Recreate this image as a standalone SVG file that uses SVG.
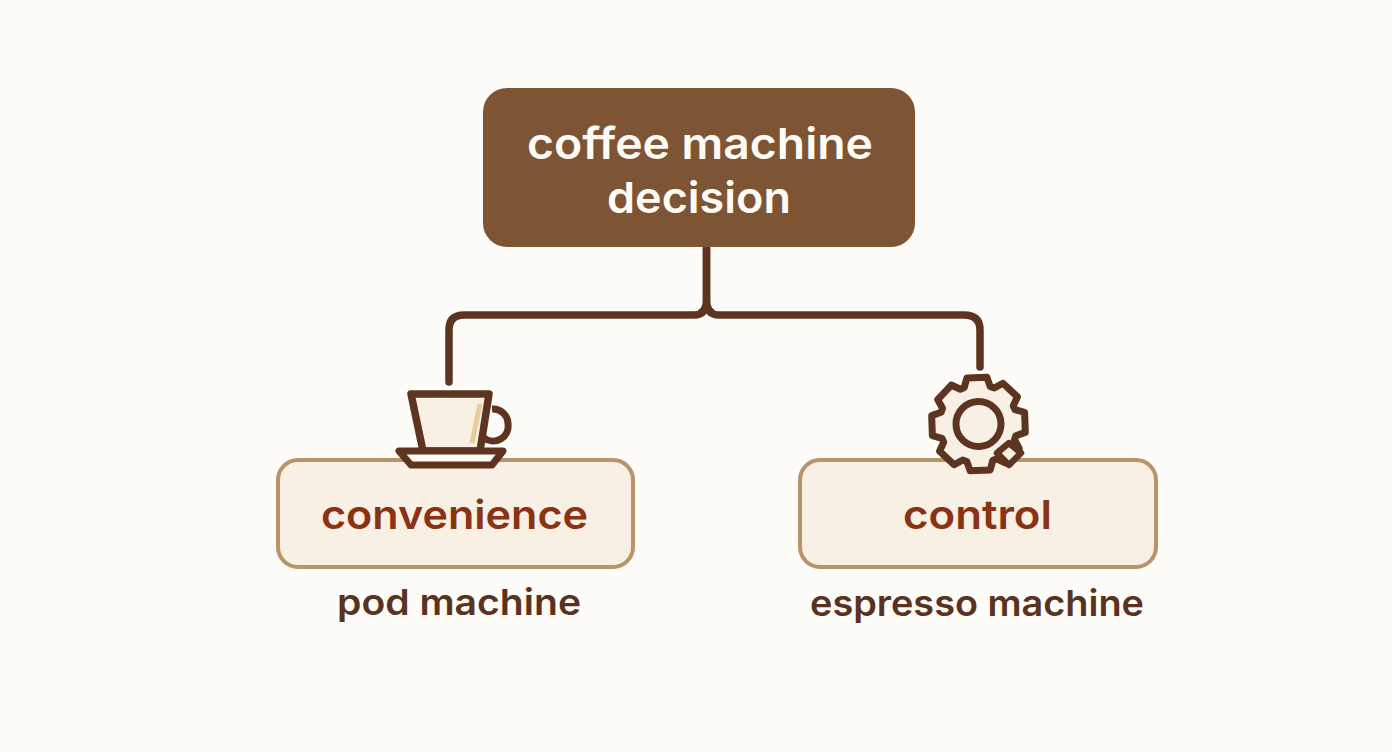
<svg xmlns="http://www.w3.org/2000/svg" width="1392" height="752" viewBox="0 0 1392 752">
<style>
text{font-family:"Inter","Liberation Sans",sans-serif;text-anchor:middle;font-weight:600;}
.root{fill:#fdfbf6;font-size:43px}
.opt{fill:#f8f0e4;stroke:#b99468;stroke-width:4}
.lab{fill:#8a3312;font-size:40px}
.sub{fill:#5a3220;font-size:36px;font-weight:600}
.ln{fill:none;stroke:#5c3420;stroke-width:7.500;stroke-linecap:round;stroke-linejoin:round}
.ink{stroke:#5c3420;stroke-linejoin:round}
</style>
<rect width="1392" height="752" fill="#fdfcf8"/>
<g id="connectors">
<path class="ln" d="M706.500 248V300Q706.500 315 694 315H464Q449 315 449 330V382"/>
<path class="ln" d="M706.500 248V300Q706.500 315 719 315H964Q980 315 980 330V367"/>
</g>
<g id="node-root">
<rect x="483" y="88" width="432" height="159" rx="24" fill="#7d5534"/>
<text class="root" x="700" y="159" textLength="346" lengthAdjust="spacingAndGlyphs">coffee machine</text>
<text class="root" x="699" y="213" textLength="184" lengthAdjust="spacingAndGlyphs">decision</text>
</g>
<g id="node-convenience">
<rect class="opt" x="278" y="460" width="355" height="107" rx="20"/>
<text class="lab" x="454.500" y="529" textLength="267" lengthAdjust="spacingAndGlyphs">convenience</text>
<text class="sub" x="459" y="615" textLength="244" lengthAdjust="spacingAndGlyphs">pod machine</text>
<path class="ink" d="M411 394H489L480 451H423Z" fill="#f8f0e4" stroke-width="7.500"/>
<path d="M480 404L472 443" fill="none" stroke="#e8cf97" stroke-width="5"/>
<path d="M492 409A15 15 0 0 1 508 424A15 15 0 0 1 484 438" fill="none" stroke="#5c3420" stroke-width="7"/>
<path class="ink" d="M399 451H503L492 465H411Z" fill="#fdfaf3" stroke-width="7"/>
</g>
<g id="node-control">
<rect class="opt" x="800" y="460" width="356" height="107" rx="20"/>
<text class="lab" x="977.500" y="529" textLength="149" lengthAdjust="spacingAndGlyphs">control</text>
<text class="sub" x="977" y="616" textLength="334" lengthAdjust="spacingAndGlyphs">espresso machine</text>
<g transform="translate(978.500 424) rotate(-2)">
<polygon class="ink" points="-13,-37 -10,-46.500 10,-46.500 13,-37 17,-35.400 25.800,-39.900 39.900,-25.800 35.400,-17 37,-13 46.500,-10 46.500,10 37,13 35.400,17 39.900,25.800 25.800,39.900 17,35.400 13,37 10,46.500 -10,46.500 -13,37 -17,35.400 -25.800,39.900 -39.900,25.800 -35.400,17 -37,13 -46.500,10 -46.500,-10 -37,-13 -35.400,-17 -39.900,-25.800 -25.800,-39.900 -17,-35.400" fill="#f8f0e4" stroke-width="7"/>
<circle class="ink" r="22.500" fill="#f8f0e4" stroke-width="7"/>
</g>
<path class="ink" d="M1009 443L1021 453L1009 465L997 453Z" fill="#f8f0e4" stroke-width="6.500"/>
</g>
</svg>
